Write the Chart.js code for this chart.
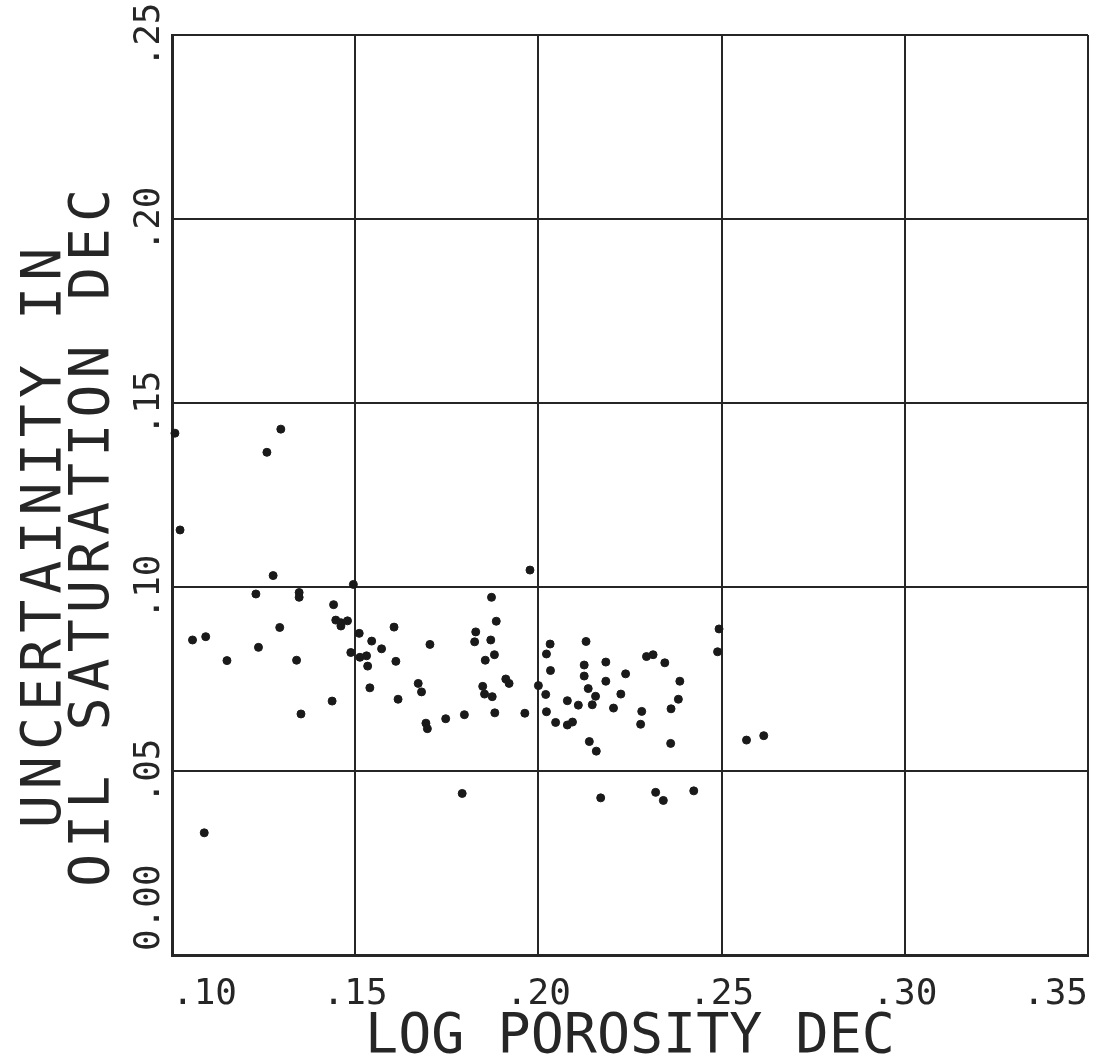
<!DOCTYPE html>
<html>
<head>
<meta charset="utf-8">
<title>Uncertainty in oil saturation vs log porosity</title>
<script src="https://cdn.jsdelivr.net/npm/chart.js@4/dist/chart.umd.min.js"></script>
<style>
  html, body { margin: 0; padding: 0; background: #fff; }
  #wrap { width: 1115px; height: 1057px; position: relative; }
</style>
</head>
<body>
<div id="wrap"><canvas id="grafico"></canvas></div>
<script>
// Datos
const porosidad = [
  0.1008, 0.1297, 0.1259, 0.1022, 0.1276, 0.1495, 0.1229, 0.1347, 0.1347, 0.1441,
  0.1447, 0.1461, 0.1461, 0.1479, 0.1511, 0.1545, 0.1488, 0.1513, 0.1531, 0.1534,
  0.1540, 0.1056, 0.1092, 0.1294, 0.1236, 0.1150, 0.1340, 0.1437, 0.1352, 0.1088,
  0.1977, 0.1872, 0.1885, 0.1829, 0.1826, 0.1870, 0.1880, 0.1855, 0.1911, 0.1920,
  0.1848, 0.1853, 0.1874, 0.1881, 0.1963, 0.1798, 0.1747, 0.1693, 0.1697, 0.1672,
  0.1681, 0.1704, 0.1606, 0.1572, 0.1611, 0.1617, 0.1792, 0.2022, 0.2032, 0.2033,
  0.2000, 0.2020, 0.2022, 0.2047, 0.2079, 0.2079, 0.2093, 0.2109, 0.2130, 0.2125,
  0.2125, 0.2136, 0.2156, 0.2147, 0.2139, 0.2158, 0.2184, 0.2184, 0.2238, 0.2225,
  0.2205, 0.2295, 0.2313, 0.2345, 0.2386, 0.2382, 0.2362, 0.2282, 0.2279, 0.2361,
  0.2170, 0.2320, 0.2341, 0.2424, 0.2493, 0.2489, 0.2568, 0.2615
];
const incertidumbre = [
  0.1418, 0.1429, 0.1366, 0.1155, 0.1031, 0.1007, 0.0981, 0.0985, 0.0972, 0.0952,
  0.0910, 0.0903, 0.0894, 0.0908, 0.0874, 0.0853, 0.0822, 0.0809, 0.0813, 0.0785,
  0.0726, 0.0856, 0.0865, 0.0890, 0.0836, 0.0800, 0.0801, 0.0690, 0.0655, 0.0332,
  0.1046, 0.0972, 0.0907, 0.0878, 0.0851, 0.0856, 0.0816, 0.0801, 0.0750, 0.0738,
  0.0730, 0.0709, 0.0702, 0.0658, 0.0657, 0.0653, 0.0642, 0.0630, 0.0615, 0.0738,
  0.0715, 0.0844, 0.0891, 0.0832, 0.0798, 0.0695, 0.0439, 0.0818, 0.0845, 0.0773,
  0.0732, 0.0708, 0.0661, 0.0632, 0.0691, 0.0625, 0.0633, 0.0679, 0.0852, 0.0788,
  0.0758, 0.0724, 0.0703, 0.0680, 0.0580, 0.0554, 0.0796, 0.0744, 0.0764, 0.0709,
  0.0671, 0.0811, 0.0816, 0.0794, 0.0744, 0.0695, 0.0669, 0.0662, 0.0627, 0.0575,
  0.0427, 0.0442, 0.0420, 0.0446, 0.0886, 0.0824, 0.0584, 0.0596
];
const xTicks = ['.10', '.15', '.20', '.25', '.30', '.35'];
const yTicks = ['0.00', '.05', '.10', '.15', '.20', '.25'];
const tituloX = 'LOG POROSITY DEC';
const tituloY = ['UNCERTAINITY IN', 'OIL SATURATION DEC'];

const FUENTE = '"DejaVu Sans Mono", "Liberation Mono", monospace';
const TINTA = '#262626';

const puntos = porosidad.map((x, i) => ({ x: x, y: incertidumbre[i] }));

// Etiquetas del eje Y giradas y titulo vertical en dos lineas
const ejeYGirado = {
  id: 'ejeYGirado',
  afterDraw(chart) {
    const ctx = chart.ctx;
    const ys = chart.scales.y;
    const area = chart.chartArea;
    ctx.save();
    ctx.fillStyle = TINTA;
    ctx.font = '36px ' + FUENTE;
    ctx.textBaseline = 'alphabetic';
    yTicks.forEach((lab, i) => {
      const py = ys.getPixelForValue(i * 0.05);
      ctx.save();
      ctx.translate(area.left - 13, py);
      ctx.rotate(-Math.PI / 2);
      ctx.textAlign = i === 0 ? 'left' : 'center';
      ctx.fillText(lab, i === 0 ? 4 : 0, 0);
      ctx.restore();
    });
    ctx.font = '55px ' + FUENTE;
    ctx.letterSpacing = '6px';
    ctx.textAlign = 'center';
    const cy = (area.top + area.bottom) / 2 + 40;
    [60, 108].forEach((bx, i) => {
      ctx.save();
      ctx.translate(bx, cy);
      ctx.rotate(-Math.PI / 2);
      ctx.fillText(tituloY[i], 0, 0);
      ctx.restore();
    });
    ctx.restore();
  }
};

new Chart(document.getElementById('grafico').getContext('2d'), {
  type: 'scatter',
  data: {
    datasets: [{
      data: puntos,
      backgroundColor: '#1a1a1a',
      borderColor: '#1a1a1a',
      pointRadius: 4,
      pointHoverRadius: 4,
      clip: false
    }]
  },
  options: {
    responsive: true,
    maintainAspectRatio: false,
    animation: false,
    events: [],
    layout: { padding: { top: 35, right: 27, left: 0, bottom: 0 } },
    plugins: { legend: { display: false }, tooltip: { enabled: false } },
    scales: {
      x: {
        type: 'linear',
        min: 0.10,
        max: 0.35,
        afterBuildTicks(scale) {
          scale.ticks = xTicks.map((t, i) => ({ value: 0.10 + i * 0.05 }));
        },
        afterFit(scale) { scale.height = 102; },
        grid: { color: TINTA, lineWidth: 2, drawTicks: false },
        border: { color: TINTA, width: 3 },
        ticks: {
          align: 'inner',
          padding: 18,
          color: TINTA,
          font: { family: FUENTE, size: 36 },
          callback: (v, i) => xTicks[i]
        },
        title: {
          display: true,
          text: tituloX,
          color: TINTA,
          font: { family: FUENTE, size: 55, lineHeight: 1 },
          padding: { top: 0, bottom: -8 }
        }
      },
      y: {
        type: 'linear',
        min: 0,
        max: 0.25,
        afterBuildTicks(scale) {
          scale.ticks = yTicks.map((t, i) => ({ value: i * 0.05 }));
        },
        afterFit(scale) { scale.width = 172; },
        grid: { color: TINTA, lineWidth: 2, drawTicks: false },
        border: { color: TINTA, width: 3 },
        ticks: { display: false }
      }
    }
  },
  plugins: [ejeYGirado]
});
</script>
</body>
</html>
